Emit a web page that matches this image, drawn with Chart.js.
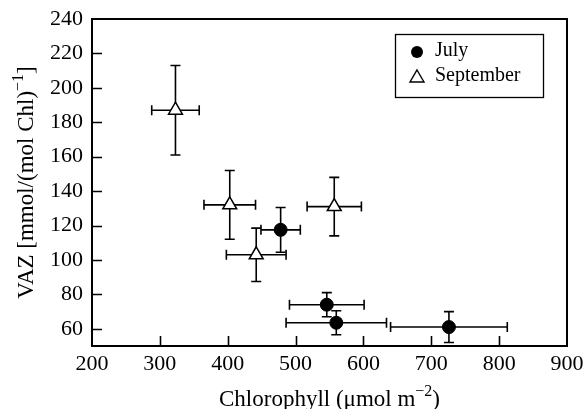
<!DOCTYPE html>
<html><head><meta charset="utf-8">
<style>html,body{margin:0;padding:0;background:#fff}#wrap{width:586px;height:409px}</style>
<script src="https://cdn.jsdelivr.net/npm/chart.js@4.4.1/dist/chart.umd.min.js"></script>
</head><body><div id="wrap"><canvas id="c" width="586" height="409"></canvas></div>
<script>
// ---- data ----
const seriesNames = ['July', 'September'];
const julyX    = [478, 546, 560, 726];
const julyY    = [117.5, 74, 63.5, 61];
const julyXErr = [29, 55, 74, 86];
const julyYErr = [13, 7, 7, 9];
const sepX     = [323, 403, 442, 557];
const sepY     = [187, 132, 103, 131];
const sepXErr  = [35, 38, 44, 40];
const sepYErr  = [26, 20, 15.5, 17];
const xTicks = [200, 300, 400, 500, 600, 700, 800, 900];
const yTicks = [60, 80, 100, 120, 140, 160, 180, 200, 220, 240];
const xTitleParts = ['Chlorophyll (\u03bcmol m', '\u22122', ')'];
const yTitleParts = ['VAZ [mmol/(mol Chl)', '\u22121', ']'];

const FONT = '"Liberation Serif", "Times New Roman", serif';

function toPts(xs, ys, xe, ye) {
  return xs.map((x, i) => ({ x: x, y: ys[i], xErr: xe[i], yErr: ye[i] }));
}

function drawRich(ctx, parts, x, y, size) {
  const main = size + 'px ' + FONT, sup = Math.round(size * 0.7) + 'px ' + FONT;
  ctx.font = main; const w0 = ctx.measureText(parts[0]).width, w2 = ctx.measureText(parts[2]).width;
  ctx.font = sup; const w1 = ctx.measureText(parts[1]).width;
  let sx = x - (w0 + w1 + w2) / 2;
  ctx.textAlign = 'left'; ctx.textBaseline = 'alphabetic';
  ctx.font = main; ctx.fillText(parts[0], sx, y); sx += w0;
  ctx.font = sup; ctx.fillText(parts[1], sx, y - size * 0.42); sx += w1;
  ctx.font = main; ctx.fillText(parts[2], sx, y);
}

const errorBars = {
  id: 'errorBars',
  beforeDatasetsDraw(chart) {
    const ctx = chart.ctx, xs = chart.scales.x, ys = chart.scales.y;
    ctx.save();
    ctx.strokeStyle = '#000'; ctx.lineWidth = 1.6;
    const cap = 5;
    chart.data.datasets.forEach(ds => {
      ds.data.forEach(p => {
        const px = xs.getPixelForValue(p.x), py = ys.getPixelForValue(p.y);
        const x1 = xs.getPixelForValue(p.x - p.xErr), x2 = xs.getPixelForValue(p.x + p.xErr);
        const y1 = ys.getPixelForValue(p.y + p.yErr), y2 = ys.getPixelForValue(p.y - p.yErr);
        ctx.beginPath();
        ctx.moveTo(x1, py); ctx.lineTo(x2, py);
        ctx.moveTo(x1, py - cap); ctx.lineTo(x1, py + cap);
        ctx.moveTo(x2, py - cap); ctx.lineTo(x2, py + cap);
        ctx.moveTo(px, y1); ctx.lineTo(px, y2);
        ctx.moveTo(px - cap, y1); ctx.lineTo(px + cap, y1);
        ctx.moveTo(px - cap, y2); ctx.lineTo(px + cap, y2);
        ctx.stroke();
      });
    });
    ctx.restore();
  }
};

const decor = {
  id: 'decor',
  afterDraw(chart) {
    const ctx = chart.ctx, a = chart.chartArea, xs = chart.scales.x, ys = chart.scales.y;
    ctx.save();
    ctx.strokeStyle = '#000'; ctx.fillStyle = '#000';
    // inner ticks
    ctx.lineWidth = 1.6;
    const tl = 10;
    ctx.beginPath();
    xTicks.forEach(v => {
      if (v <= xs.min || v >= xs.max) return;
      const p = Math.round(xs.getPixelForValue(v)) + 0.5;
      ctx.moveTo(p, a.bottom); ctx.lineTo(p, a.bottom - tl);
    });
    yTicks.forEach(v => {
      if (v <= ys.min || v >= ys.max) return;
      const p = Math.round(ys.getPixelForValue(v)) + 0.5;
      ctx.moveTo(a.left, p); ctx.lineTo(a.left + tl, p);
    });
    ctx.stroke();
    // frame
    ctx.lineWidth = 2;
    ctx.strokeRect(a.left, a.top, a.right - a.left, a.bottom - a.top);
    // axis titles
    drawRich(ctx, xTitleParts, (a.left + a.right) / 2, 406, 23);
    ctx.save();
    ctx.translate(33, (a.top + a.bottom) / 2);
    ctx.rotate(-Math.PI / 2);
    drawRich(ctx, yTitleParts, 0, 0, 23);
    ctx.restore();
    // legend
    const bx = 395, by = 34, bw = 148, bh = 63;
    ctx.fillStyle = '#fff'; ctx.fillRect(bx, by, bw, bh);
    ctx.lineWidth = 1.3; ctx.strokeRect(bx + 0.5, by + 0.5, bw, bh);
    ctx.fillStyle = '#000';
    ctx.beginPath(); ctx.arc(417, 52, 6, 0, Math.PI * 2); ctx.fill();
    ctx.beginPath();
    ctx.moveTo(417, 70); ctx.lineTo(424, 82); ctx.lineTo(410, 82); ctx.closePath();
    ctx.lineWidth = 1.4; ctx.stroke();
    ctx.font = '20px ' + FONT; ctx.textAlign = 'left'; ctx.textBaseline = 'middle';
    ctx.fillText(seriesNames[0], 435, 51);
    ctx.fillText(seriesNames[1], 435, 76);
    ctx.restore();
  }
};

new Chart(document.getElementById('c'), {
  type: 'scatter',
  data: {
    datasets: [
      { label: seriesNames[0], data: toPts(julyX, julyY, julyXErr, julyYErr),
        pointStyle: 'circle', pointRadius: 6.5, backgroundColor: '#000', borderColor: '#000', borderWidth: 1 },
      { label: seriesNames[1], data: toPts(sepX, sepY, sepXErr, sepYErr),
        pointStyle: 'triangle', pointRadius: 8, backgroundColor: '#fff', borderColor: '#000', borderWidth: 1.5 }
    ]
  },
  options: {
    responsive: false, animation: false, devicePixelRatio: 1,
    layout: { padding: { top: 19, right: 19, left: 0, bottom: 0 } },
    plugins: { legend: { display: false }, tooltip: { enabled: false } },
    scales: {
      x: {
        type: 'linear', min: 200, max: 900,
        afterBuildTicks: s => { s.ticks = xTicks.map(v => ({ value: v })); },
        afterFit: s => { s.height = 63; s.paddingLeft = 0; s.paddingRight = 0; },
        grid: { display: false, drawTicks: false },
        border: { display: false },
        ticks: { color: '#000', font: { family: FONT, size: 22 }, padding: 5, maxRotation: 0, autoSkip: false }
      },
      y: {
        type: 'linear', min: 50, max: 240,
        afterBuildTicks: s => { s.ticks = yTicks.map(v => ({ value: v })); },
        afterFit: s => { s.width = 92; s.paddingTop = 0; s.paddingBottom = 0; },
        grid: { display: false, drawTicks: false },
        border: { display: false },
        ticks: { color: '#000', font: { family: FONT, size: 22 }, padding: 9, autoSkip: false }
      }
    }
  },
  plugins: [errorBars, decor]
});
</script>
</body></html>
